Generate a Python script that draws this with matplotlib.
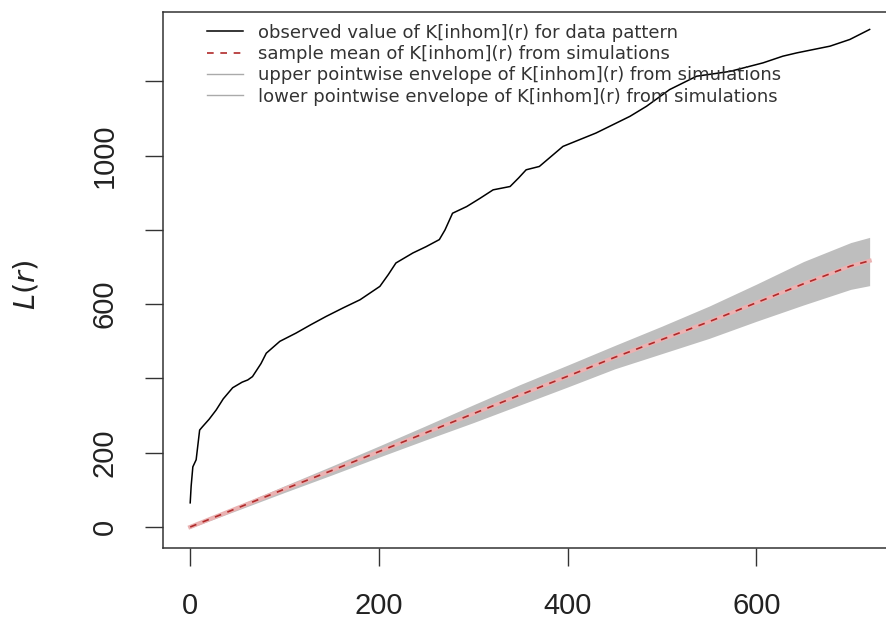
import numpy as np
import matplotlib.pyplot as plt

# observed L(r)
r_obs = [0, 1, 2.8, 6.3, 10, 13, 20, 27.5, 35, 45, 55, 61, 66, 75, 80.6, 95, 112, 128,
         144, 162, 180, 201, 210, 218, 236, 250, 264, 270, 278, 293, 307, 321, 339, 348,
         356, 370, 395, 430, 466, 483.5, 508, 536.6, 572, 607, 628, 643, 678, 699, 720]
L_obs = [65, 110, 162, 181, 261, 270, 290, 315, 345, 375, 390, 396, 405, 440, 468, 500,
         522, 545, 567, 590, 612, 648, 680, 711, 738, 755, 774, 800, 845, 863, 885, 908,
         917, 940, 962, 971, 1025, 1061, 1106, 1133, 1178, 1214, 1227, 1250, 1268, 1277,
         1295, 1313, 1340]

# simulation envelope
r_env = [0, 50, 100, 150, 200, 250, 300, 350, 400, 450, 500, 550, 600, 650, 700, 720]
L_mean = [0, 51, 102, 152, 203, 254, 305, 356, 406, 457, 505, 553, 604, 655, 703, 717]
L_hi = [3, 57, 111, 164, 218, 273, 329, 384, 436, 489, 541, 595, 654, 715, 766, 780]
L_lo = [-3, 45, 93, 140, 188, 235, 281, 329, 377, 426, 467, 508, 554, 598, 640, 650]

legend_labels = [
    "observed value of K[inhom](r) for data pattern",
    "sample mean of K[inhom](r) from simulations",
    "upper pointwise envelope of K[inhom](r) from simulations",
    "lower pointwise envelope of K[inhom](r) from simulations",
]

fig = plt.figure(figsize=(8.86, 6.22), dpi=100)
ax = fig.add_axes([0.1840, 0.1190, 0.8282, 0.8617])

ax.fill_between(r_env, L_lo, L_hi, color="#bebebe", linewidth=0, zorder=1)
ax.plot(r_env, L_mean, color="#eab2b2", linewidth=3.0, zorder=2)
h_mean, = ax.plot(r_env, L_mean, color="#b02a2a", linewidth=1.2, dashes=(4, 4), zorder=3)
h_obs, = ax.plot(r_obs, L_obs, color="black", linewidth=1.1, zorder=4)
h_hi, = ax.plot([], [], color="#aaaaaa", linewidth=1.0)
h_lo, = ax.plot([], [], color="#aaaaaa", linewidth=1.0)

ax.set_xlim(-28.8, 748.8)
ax.set_ylim(-56.6, 1387)

ax.set_xticks([0, 200, 400, 600])
ax.set_yticks([0, 200, 400, 600, 800, 1000, 1200])
ax.set_yticklabels(["0", "200", "", "600", "", "1000", ""], rotation=90, va="center")
ax.tick_params(axis="both", length=13, width=1.0, color="#333333",
               labelsize=21, labelcolor="#222222", pad=19)
for lab in ax.get_xticklabels() + ax.get_yticklabels():
    lab.set_family("Liberation Sans")

for s in ax.spines.values():
    s.set_linewidth(1.1)
    s.set_color("#333333")

fig.text(26 / 886, 1 - 285 / 622, "$L(r)$", rotation=90, fontsize=21,
         ha="center", va="center", color="#222222")

leg = ax.legend([h_obs, h_mean, h_hi, h_lo], legend_labels,
                loc="upper left", bbox_to_anchor=(0.06, 0.978), frameon=False,
                fontsize=13, handlelength=2.0, handletextpad=0.8, labelspacing=0.18,
                borderpad=0, borderaxespad=0)
for t in leg.get_texts():
    t.set_color("#333333")

fig.savefig("out.png", dpi=100)
